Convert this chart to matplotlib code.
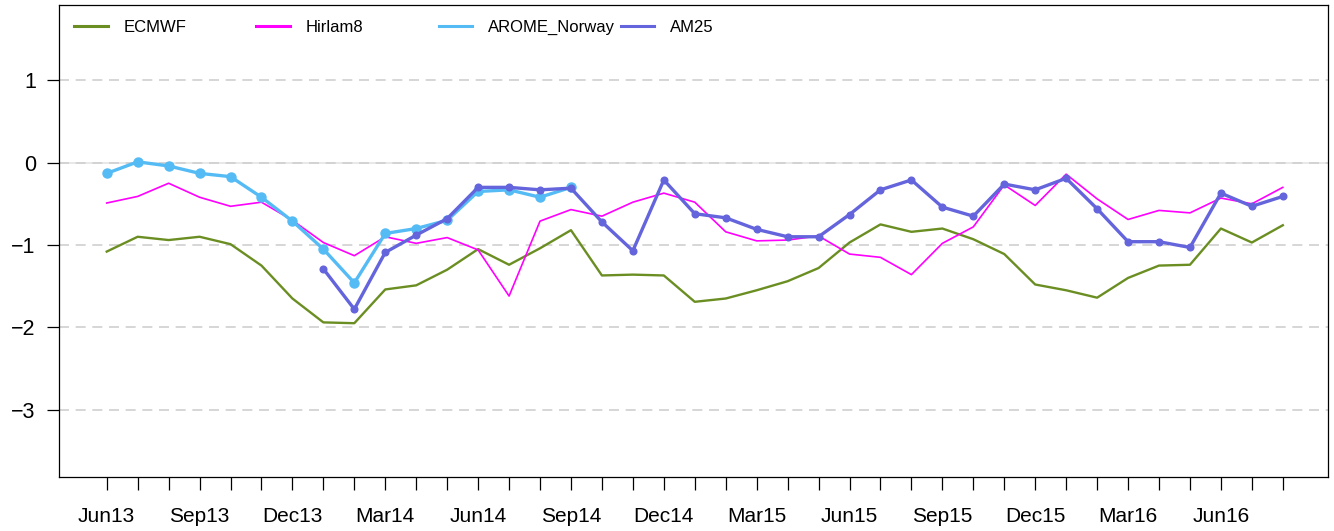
import numpy as np
import matplotlib
matplotlib.use("Agg")
import matplotlib.pyplot as plt
from matplotlib.legend import Legend

plt.rcParams['font.family'] = ['Liberation Sans', 'DejaVu Sans']

# Meses (Jun13 .. Aug16)
meses = ["Jun13", "Jul13", "Aug13", "Sep13", "Oct13", "Nov13", "Dec13",
         "Jan14", "Feb14", "Mar14", "Apr14", "May14", "Jun14", "Jul14",
         "Aug14", "Sep14", "Oct14", "Nov14", "Dec14", "Jan15", "Feb15",
         "Mar15", "Apr15", "May15", "Jun15", "Jul15", "Aug15", "Sep15",
         "Oct15", "Nov15", "Dec15", "Jan16", "Feb16", "Mar16", "Apr16",
         "May16", "Jun16", "Jul16", "Aug16"]

ecmwf = [-1.08, -0.90, -0.94, -0.90, -0.99, -1.25, -1.65, -1.94, -1.95,
         -1.54, -1.49, -1.30, -1.05, -1.24, -1.04, -0.82, -1.37, -1.36,
         -1.37, -1.69, -1.65, -1.55, -1.44, -1.28, -0.97, -0.75, -0.84,
         -0.80, -0.93, -1.11, -1.48, -1.55, -1.64, -1.40, -1.25, -1.24,
         -0.80, -0.97, -0.76]

hirlam8 = [-0.49, -0.41, -0.25, -0.42, -0.53, -0.48, -0.70, -0.97, -1.13,
           -0.90, -0.98, -0.91, -1.06, -1.62, -0.71, -0.57, -0.65, -0.48,
           -0.37, -0.48, -0.84, -0.95, -0.94, -0.89, -1.11, -1.15, -1.36,
           -0.98, -0.78, -0.27, -0.52, -0.14, -0.44, -0.69, -0.58, -0.61,
           -0.43, -0.50, -0.30]

# AROME_Norway: Jun13 .. Sep14
arome = [-0.13, 0.01, -0.04, -0.13, -0.17, -0.42, -0.71, -1.05, -1.46,
         -0.86, -0.80, -0.70, -0.35, -0.33, -0.42, -0.30]

# AM25: Jan14 .. Aug16
am25_inicio = "Jan14"
am25 = [-1.29, -1.78, -1.09, -0.88, -0.68, -0.30, -0.30, -0.33, -0.31,
        -0.72, -1.07, -0.21, -0.62, -0.67, -0.81, -0.90, -0.90, -0.63,
        -0.33, -0.21, -0.54, -0.65, -0.26, -0.33, -0.19, -0.56, -0.96,
        -0.96, -1.03, -0.37, -0.53, -0.41]

y_ticks = [1, 0, -1, -2, -3]

x = np.arange(len(meses))
i0 = meses.index(am25_inicio)

fig = plt.figure(figsize=(13.34, 5.31), dpi=100)
ax = fig.add_axes([0.0445, 0.1023, 0.951, 0.8883])

# Lineas de referencia
ax.axhline(0, color='#e4e4e4', lw=1.2, zorder=0)
for yv in y_ticks:
    ax.axhline(yv, color='#cfcfcf', lw=1.2, ls=(0, (6, 4)), zorder=0)

c_ec = '#6b8e23'
c_hi = '#ff00ff'
c_ar = '#55bbf5'
c_am = '#6464dc'

ax.plot(x, ecmwf, color=c_ec, lw=1.7, label='ECMWF')
ax.plot(x, hirlam8, color=c_hi, lw=1.2, label='Hirlam8')
ax.plot(x[:len(arome)], arome, color=c_ar, lw=2.4, marker='o', ms=6.5,
        label='AROME_Norway')
ax.plot(x[i0:i0 + len(am25)], am25, color=c_am, lw=2.4, marker='o', ms=4.8,
        label='AM25')

ax.set_xlim(-1.53, 39.46)
ax.set_ylim(-3.814, 1.915)

ax.set_xticks(x)
ax.set_xticklabels([m if i % 3 == 0 else "" for i, m in enumerate(meses)],
                   fontsize=15)
ax.set_yticks(y_ticks)
ax.set_yticklabels(["1", "0", "\u22121", "\u22122", "\u22123"], fontsize=15.5)
ax.tick_params(axis='x', length=9.5, width=0.9, pad=12)
ax.tick_params(axis='y', length=9, width=0.9, pad=8)
for s in ax.spines.values():
    s.set_linewidth(0.9)

# Leyenda en una fila, cada entrada en su sitio
handles, labels = ax.get_legend_handles_labels()
pos_leyenda = [0.0, 0.1435, 0.2871, 0.4306]
for h, l, px in zip(handles, labels, pos_leyenda):
    h2 = plt.Line2D([], [], color=h.get_color(), lw=2.2)
    leg = Legend(ax, [h2], [l], loc='upper left', bbox_to_anchor=(px, 1.0),
                 frameon=False, fontsize=12, handlelength=2.0,
                 handletextpad=0.95, borderaxespad=0.5)
    ax.add_artist(leg)

fig.savefig("out.png", dpi=100)
